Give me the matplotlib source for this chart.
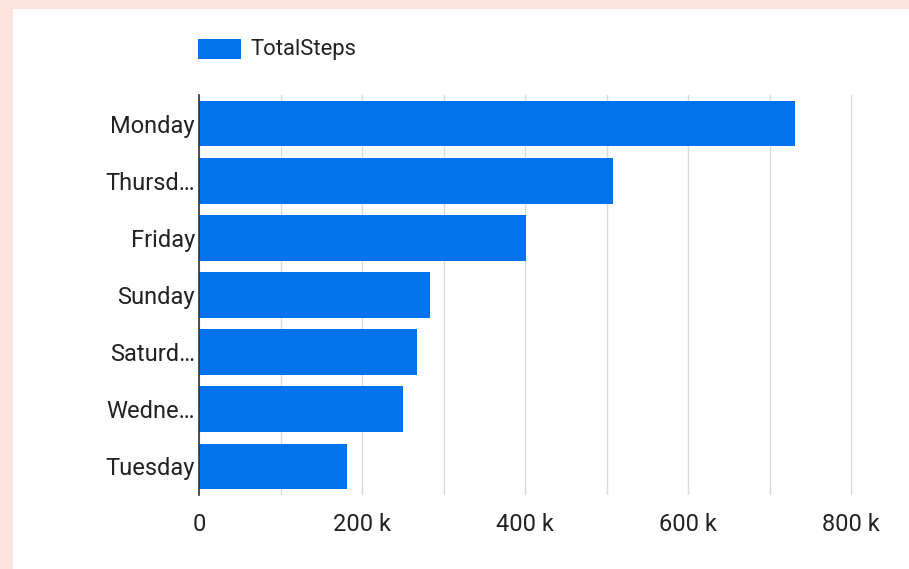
import matplotlib.pyplot as plt
from matplotlib.patches import Rectangle
from matplotlib.ticker import MultipleLocator, FuncFormatter

# ------------------------------------------------------------------
# Dados
# ------------------------------------------------------------------
dias = ["Monday", "Thursd…", "Friday", "Sunday", "Saturd…", "Wedne…", "Tuesday"]
total_steps = [731000, 508000, 401000, 283000, 267000, 250000, 182000]
serie = "TotalSteps"

AZUL = "#0073EA"
ROSA = "#FCE3DD"

plt.rcParams["font.family"] = ["Roboto", "DejaVu Sans"]

fig = plt.figure(figsize=(9.09, 5.69), dpi=100, facecolor=ROSA)
# painel branco (atrás de tudo)
fig.patches.append(Rectangle((13 / 909, 0), 1 - 13 / 909, 1 - 9 / 569,
                             transform=fig.transFigure, facecolor="white",
                             edgecolor="none", zorder=-10))

# eixo um pouco mais largo que 800k para a última grade não ser cortada
XMAX = 802000
ax = fig.add_axes([199 / 909, 74 / 569, 652 * XMAX / 800000 / 909, 400 / 569])
ax.set_facecolor("none")
ax.set_zorder(5)

y = list(range(len(dias)))
ax.barh(y, total_steps, height=0.8, color=AZUL, zorder=3, label=serie)
ax.set_ylim(len(dias) - 0.5, -0.5)
ax.set_yticks(y)
ax.set_yticklabels(dias)

ax.set_xlim(0, XMAX)
ax.xaxis.set_major_locator(MultipleLocator(200000))
ax.xaxis.set_minor_locator(MultipleLocator(100000))
ax.xaxis.set_major_formatter(FuncFormatter(lambda v, p: "0" if v == 0 else f"{int(v / 1000)} k"))
ax.grid(axis="x", which="both", color="#DADADA", linewidth=1, zorder=0)

for s in ["top", "right", "bottom"]:
    ax.spines[s].set_visible(False)
ax.spines["left"].set_color("#333333")
ax.spines["left"].set_linewidth(1.2)
ax.spines["left"].set_zorder(4)

ax.tick_params(axis="both", which="both", length=0, labelsize=17, labelcolor="#222222")
ax.tick_params(axis="x", pad=13)
ax.tick_params(axis="y", pad=3)

# legenda manual no topo
fig.patches.append(Rectangle((198 / 909, 1 - 59 / 569), 43 / 909, 20 / 569,
                             transform=fig.transFigure, facecolor=AZUL,
                             edgecolor="none", zorder=2))
fig.text(250 / 909, 1 - 49 / 569, serie, fontsize=15.8, color="#222222",
         va="center", ha="left")

plt.savefig("out.png", dpi=100, facecolor=ROSA)
